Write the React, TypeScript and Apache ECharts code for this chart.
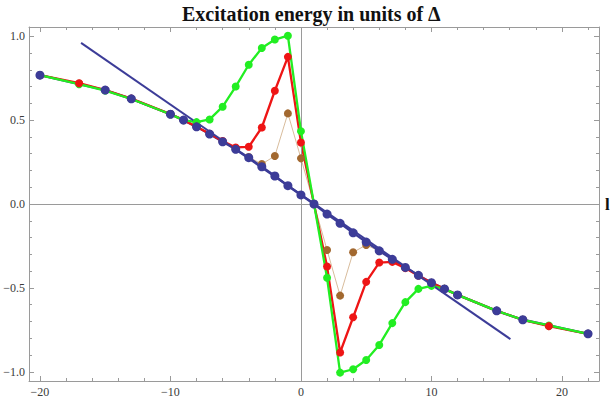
import React, { useEffect, useRef } from "react";
import * as echarts from "echarts";

const TITLE = "Excitation energy in units of Δ";
const X_NAME = "l";

const xs = [-20, -17, -15, -13, -10, -9, -8, -7, -6, -5, -4, -3, -2, -1, 0, 1, 2, 3, 4, 5, 6, 7, 8, 9, 10, 11, 12, 15, 17, 19, 22];

const blueVals: (number | null)[] = [0.768, null, 0.679, 0.627, 0.535, 0.5, 0.46, 0.417, 0.371, 0.326, 0.276, 0.222, 0.167, 0.109, 0.054, 0.0, -0.06, -0.115, -0.172, -0.227, -0.279, -0.33, -0.378, -0.425, -0.469, -0.506, -0.542, -0.637, -0.69, null, -0.774];
const redVals = [0.768, 0.72, 0.679, 0.628, 0.536, 0.5, 0.461, 0.419, 0.375, 0.337, 0.341, 0.456, 0.675, 0.877, 0.367, 0.0, -0.373, -0.885, -0.675, -0.464, -0.349, -0.345, -0.382, -0.427, -0.469, -0.506, -0.542, -0.637, -0.69, -0.728, -0.774];
const greenVals = [0.768, 0.714, 0.676, 0.626, 0.535, 0.5, 0.488, 0.504, 0.58, 0.7, 0.83, 0.93, 0.98, 1.003, 0.434, 0.0, -0.44, -1.005, -0.985, -0.93, -0.84, -0.71, -0.585, -0.506, -0.488, -0.506, -0.542, -0.637, -0.69, -0.724, -0.774];
const brownVals = [0.768, 0.718, 0.679, 0.627, 0.535, 0.5, 0.46, 0.417, 0.372, 0.327, 0.28, 0.238, 0.286, 0.54, 0.272, 0.0, -0.274, -0.546, -0.288, -0.244, -0.281, -0.331, -0.378, -0.425, -0.469, -0.506, -0.542, -0.637, -0.69, -0.728, -0.774];

const tangentX = [-16.85, 16.05];
const tangentY = [0.96, -0.805];

const xMajor = [-20, -10, 0, 10, 20];
const xMinor = [-18, -16, -14, -12, -8, -6, -4, -2, 2, 4, 6, 8, 12, 14, 16, 18, 22];
const yMajor = [-1, -0.5, 0, 0.5, 1];
const yMinor = [-0.9, -0.8, -0.7, -0.6, -0.4, -0.3, -0.2, -0.1, 0.1, 0.2, 0.3, 0.4, 0.6, 0.7, 0.8, 0.9];

const X_MIN = -20.84;
const X_MAX = 22.84;
const Y_MIN = -1.055;
const Y_MAX = 1.055;

const BLUE = "#3c3c98";
const RED = "#ee1515";
const GREEN = "#22ee22";
const BROWN = "#a2682f";
const BROWN_LINE = "#d8bc9c";
const FRAME = "#9a9a9a";
const FONT = "'Liberation Serif', 'Times New Roman', serif";

const pairs = (vals: (number | null)[]) =>
  xs.map((x, i) => (vals[i] == null ? null : [x, vals[i] as number])).filter((p) => p !== null) as number[][];

const fmtX = (v: number) => (v < 0 ? "\u2212" : "") + Math.abs(v);
const fmtY = (v: number) => (v < 0 ? "\u2212" : "") + Math.abs(v).toFixed(1);

function xAxisDef(position: "bottom" | "top", ticks: number[], len: number, labels: boolean, line: boolean) {
  return {
    type: "value",
    position,
    min: X_MIN,
    max: X_MAX,
    axisLine: { show: line, onZero: false, lineStyle: { color: FRAME, width: 1 } },
    axisTick: { show: true, inside: true, length: len, customValues: ticks, lineStyle: { color: FRAME, width: 1 } },
    axisLabel: {
      show: labels,
      customValues: ticks,
      formatter: fmtX,
      margin: 5,
      color: "#3a3a3a",
      fontFamily: FONT,
      fontSize: 12,
    },
    splitLine: { show: false },
  };
}

function yAxisDef(position: "left" | "right", ticks: number[], len: number, labels: boolean, line: boolean) {
  return {
    type: "value",
    position,
    min: Y_MIN,
    max: Y_MAX,
    axisLine: { show: line, onZero: false, lineStyle: { color: FRAME, width: 1 } },
    axisTick: { show: true, inside: true, length: len, customValues: ticks, lineStyle: { color: FRAME, width: 1 } },
    axisLabel: {
      show: labels,
      customValues: ticks,
      formatter: fmtY,
      margin: 4,
      color: "#3a3a3a",
      fontFamily: FONT,
      fontSize: 12,
    },
    splitLine: { show: false },
  };
}

function lineSeries(data: number[][], color: string, width: number, z: number) {
  return {
    type: "line",
    data,
    showSymbol: false,
    symbol: "none",
    lineStyle: { color, width },
    itemStyle: { color },
    z,
    silent: true,
  };
}

function markerSeries(data: number[][], color: string, size: number, z: number) {
  return {
    type: "scatter",
    data,
    symbol: "circle",
    symbolSize: size,
    itemStyle: { color, opacity: 1 },
    z,
    silent: true,
  };
}

export default function App() {
  const ref = useRef<HTMLDivElement>(null);
  useEffect(() => {
    if (!ref.current) return;
    const chart = echarts.init(ref.current, undefined, { renderer: "svg" });
    chart.setOption({
      animation: false,
      backgroundColor: "#ffffff",
      title: {
        text: TITLE,
        left: 177,
        top: -1,
        textStyle: { fontFamily: FONT, fontWeight: "bold", fontSize: 20, color: "#111" },
      },
      grid: { left: 29, right: 14, top: 27, bottom: 24, containLabel: false },
      xAxis: [
        xAxisDef("bottom", xMajor, 5, true, true),
        xAxisDef("bottom", xMinor, 3, false, false),
        xAxisDef("top", xMajor, 5, false, true),
        xAxisDef("top", xMinor, 3, false, false),
      ],
      yAxis: [
        yAxisDef("left", yMajor, 5, true, true),
        yAxisDef("left", yMinor, 3, false, false),
        yAxisDef("right", yMajor, 5, false, true),
        yAxisDef("right", yMinor, 3, false, false),
      ],
      graphic: [
        {
          type: "text",
          left: 605,
          top: 196,
          style: { text: X_NAME, font: "bold 17px " + FONT, fill: "#111" },
        },
      ],
      series: [
        {
          type: "line",
          data: [],
          z: 1,
          silent: true,
          markLine: {
            silent: true,
            symbol: "none",
            label: { show: false },
            lineStyle: { color: FRAME, width: 1, type: "solid" },
            data: [{ xAxis: 0 }, { yAxis: 0 }],
          },
        },
        lineSeries(pairs(brownVals), BROWN_LINE, 1, 2),
        lineSeries(pairs(blueVals), BLUE, 2.4, 3),
        lineSeries(pairs(redVals), RED, 2.3, 4),
        lineSeries(pairs(greenVals), GREEN, 2.3, 5),
        lineSeries(tangentX.map((x, i) => [x, tangentY[i]]), BLUE, 2, 6),
        markerSeries(pairs(brownVals), BROWN, 8, 7),
        markerSeries(pairs(greenVals), GREEN, 8, 8),
        markerSeries(pairs(redVals), RED, 8, 9),
        markerSeries(pairs(blueVals), BLUE, 9, 10),
      ],
    });
    return () => chart.dispose();
  }, []);
  return <div ref={ref} style={{ position: "fixed", left: 0, top: 0, width: 613, height: 405 }} />;
}
